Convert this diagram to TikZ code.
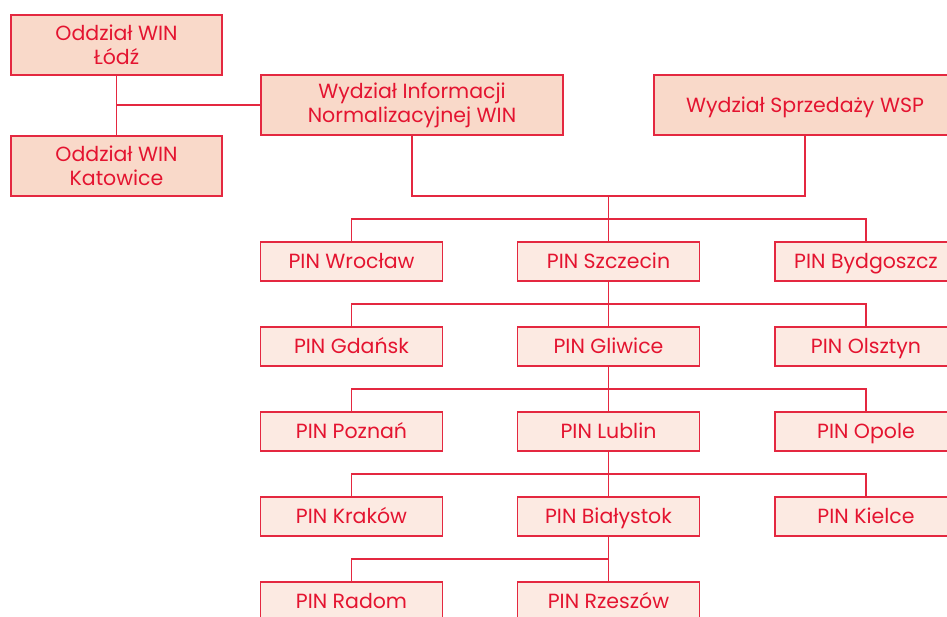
\documentclass[tikz,border=0pt]{standalone}
\usepackage{fontspec}
\setmainfont{Poppins}
\definecolor{lineRed}{RGB}{228,40,64}
\definecolor{txtRed}{RGB}{228,20,48}
\definecolor{peach}{RGB}{249,217,201}
\definecolor{lightpeach}{RGB}{252,234,226}
\begin{document}
\begin{tikzpicture}[x=1pt,y=-1pt,
  topbox/.style={draw=lineRed,line width=1.6pt,fill=peach,text=txtRed,minimum height=60pt,align=center,inner sep=0pt,font=\fontsize{20.5}{24}\selectfont},
  pinbox/.style={draw=lineRed,line width=1.6pt,fill=lightpeach,text=txtRed,minimum width=182pt,minimum height=38.5pt,inner sep=0pt,text height=14.5pt,text depth=0pt,font=\fontsize{20.5}{24}\selectfont},
  conn/.style={draw=lineRed,line width=1.2pt}]
\useasboundingbox (0,0) rectangle (947,616);
\clip (0,0) rectangle (947,616);
\node[topbox,minimum width=211pt] (lodz) at (116.5,45) {Oddział WIN\\Łódź};
\node[topbox,minimum width=211pt] (kat) at (116.5,166) {Oddział WIN\\Katowice};
\node[topbox,minimum width=302pt] (wi) at (412,105) {Wydział Informacji\\Normalizacyjnej WIN};
\node[topbox,minimum width=302pt,text height=14.5pt,text depth=0pt] (ws) at (805,105) {Wydział Sprzedaży WSP};
\node[pinbox] (wro) at (351.5,261.5) {PIN Wrocław};
\node[pinbox] (szc) at (608.5,261.5) {PIN Szczecin};
\node[pinbox] (byd) at (866,261.5) {PIN Bydgoszcz};
\node[pinbox] (gda) at (351.5,346.5) {PIN Gdańsk};
\node[pinbox] (gli) at (608.5,346.5) {PIN Gliwice};
\node[pinbox] (ols) at (866,346.5) {PIN Olsztyn};
\node[pinbox] (poz) at (351.5,431.5) {PIN Poznań};
\node[pinbox] (lub) at (608.5,431.5) {PIN Lublin};
\node[pinbox] (opo) at (866,431.5) {PIN Opole};
\node[pinbox] (kra) at (351.5,516.5) {PIN Kraków};
\node[pinbox] (bia) at (608.5,516.5) {PIN Białystok};
\node[pinbox] (kie) at (866,516.5) {PIN Kielce};
\node[pinbox] (rad) at (351.5,601.5) {PIN Radom};
\node[pinbox] (rze) at (608.5,601.5) {PIN Rzeszów};
\coordinate (j0) at (608.5,196);
\coordinate (b1) at (608.5,219);
\coordinate (b2) at (608.5,304);
\coordinate (b3) at (608.5,389);
\coordinate (b4) at (608.5,474);
\coordinate (b5) at (608.5,559);
\draw[conn] (lodz.south) -- (kat.north);
\draw[conn] (wi.west) -- (wi.west -| lodz.south);
\draw[conn] (wi.south) -- (wi.south |- j0) -- (ws.south |- j0) -- (ws.south);
\draw[conn] (j0) -- (szc.north);
\draw[conn] (wro.north) |- (b1) -| (byd.north);
\draw[conn] (szc.south) -- (gli.north);
\draw[conn] (gda.north) |- (b2) -| (ols.north);
\draw[conn] (gli.south) -- (lub.north);
\draw[conn] (poz.north) |- (b3) -| (opo.north);
\draw[conn] (lub.south) -- (bia.north);
\draw[conn] (kra.north) |- (b4) -| (kie.north);
\draw[conn] (bia.south) -- (rze.north);
\draw[conn] (rad.north) |- (b5);
\end{tikzpicture}
\end{document}
